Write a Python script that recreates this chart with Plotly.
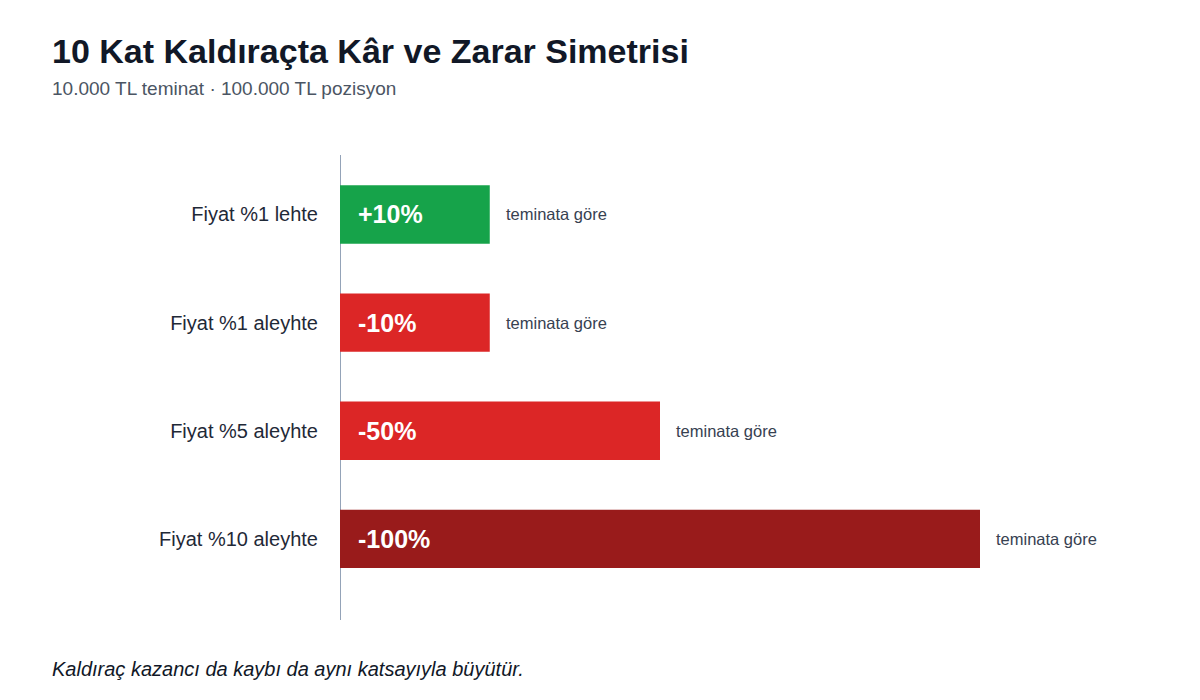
import plotly.graph_objects as go

# Senaryolar ve teminata göre kâr/zarar (%)
categories = ["Fiyat %1 lehte", "Fiyat %1 aleyhte", "Fiyat %5 aleyhte", "Fiyat %10 aleyhte"]
values = [10, 10, 50, 100]
labels = ["+10%", "-10%", "-50%", "-100%"]
colors = ["#16a34a", "#dc2626", "#dc2626", "#991b1b"]
note = "teminata göre"

# küçük çubuklar okunabilsin diye en az genişlik
min_width = 23.4
widths = [max(v, min_width) for v in values]

fig = go.Figure(go.Bar(
    y=categories, x=widths, orientation="h",
    marker=dict(color=colors, line=dict(width=0)),
    width=0.54, hoverinfo="skip",
))

for cat, w, lab in zip(categories, widths, labels):
    fig.add_annotation(x=0, y=cat, text=f"<b>{lab}</b>", showarrow=False,
                       xanchor="left", xshift=16,
                       font=dict(size=25, color="white", family="Liberation Sans"))
    fig.add_annotation(x=w, y=cat, text=note, showarrow=False,
                       xanchor="left", xshift=14,
                       font=dict(size=16.5, color="#374151", family="Liberation Sans"))

fig.add_annotation(x=0, y=1, xref="paper", yref="paper", xanchor="left", yanchor="top",
                   text="<b>10 Kat Kaldıraçta Kâr ve Zarar Simetrisi</b>", showarrow=False,
                   xshift=-290, yshift=125,
                   font=dict(size=34, color="#111827", family="Liberation Sans"))
fig.add_annotation(x=0, y=1, xref="paper", yref="paper", xanchor="left", yanchor="top",
                   text="10.000 TL teminat · 100.000 TL pozisyon", showarrow=False,
                   xshift=-290, yshift=79,
                   font=dict(size=19, color="#4b5563", family="Liberation Sans"))
fig.add_annotation(x=0, y=0, xref="paper", yref="paper", xanchor="left", yanchor="top",
                   text="<i>Kaldıraç kazancı da kaybı da aynı katsayıyla büyütür.</i>", showarrow=False,
                   xshift=-290, yshift=-36,
                   font=dict(size=20, color="#111827", family="Liberation Sans"))

fig.update_layout(
    width=1200, height=700,
    margin=dict(l=332, r=28, t=147, b=88),
    plot_bgcolor="white", paper_bgcolor="white",
    showlegend=False,
    xaxis=dict(range=[0, 131.25], showgrid=False, showticklabels=False,
               zeroline=True, zerolinecolor="#94a3b8", zerolinewidth=1, fixedrange=True),
    yaxis=dict(autorange=False, range=[3.75, -0.55], showgrid=False, ticks="",
               ticklabelstandoff=21,
               tickfont=dict(size=20, color="#1f2937", family="Liberation Sans")),
)

fig.write_html("out.html")
